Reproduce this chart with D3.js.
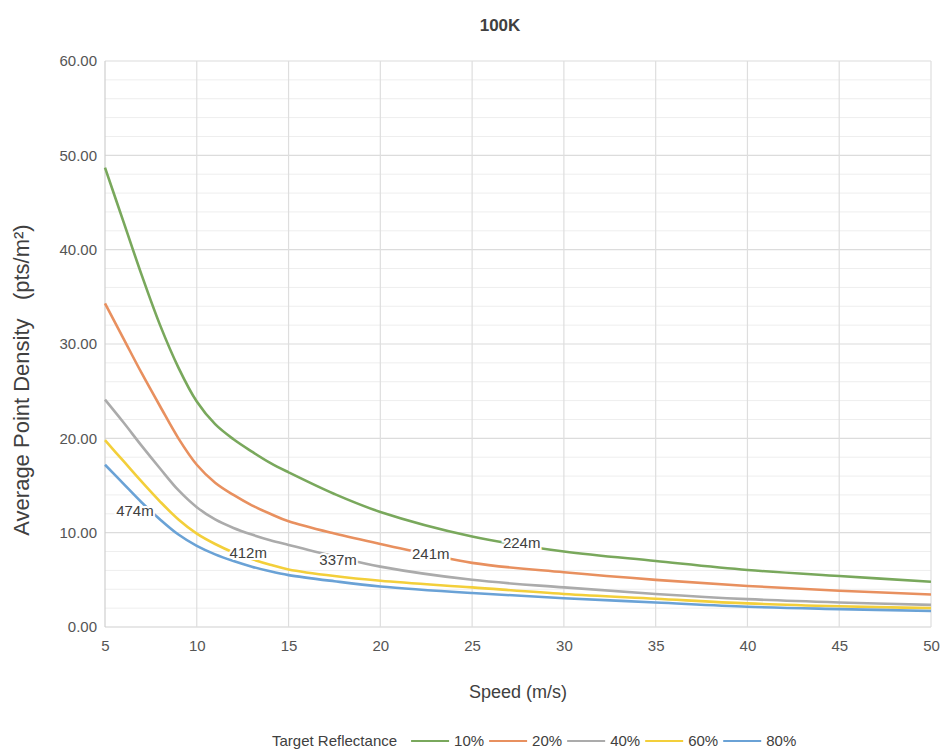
<!DOCTYPE html>
<html>
<head>
<meta charset="utf-8">
<script src="https://d3js.org/d3.v7.min.js"></script>
<title>100K</title>
<style>
  body { margin: 0; background: #fff; }
  text { font-family: "Liberation Sans", Arial, sans-serif; }
</style>
</head>
<body>
<svg id="chart"></svg>
<script>
const width = 943;
const height = 752;
const margin = {top: 61, right: 12, bottom: 125, left: 105};

// speeds (m/s) at which values were read
const speeds = [5, 6, 7, 8, 9, 10, 11, 12, 13, 14, 15, 17.5, 20, 25, 30, 35, 40, 45, 50];

const reflect10 = [48.7, 43.0, 37.3, 32.0, 27.5, 23.9, 21.5, 19.9, 18.6, 17.4, 16.4, 14.1, 12.2, 9.6, 8.0, 7.0, 6.05, 5.4, 4.8];
const reflect20 = [34.3, 30.6, 26.9, 23.4, 20.0, 17.2, 15.3, 14.0, 12.9, 12.0, 11.2, 9.9, 8.8, 6.8, 5.8, 5.0, 4.35, 3.85, 3.45];
const reflect40 = [24.1, 21.7, 19.2, 16.8, 14.5, 12.7, 11.4, 10.5, 9.8, 9.2, 8.7, 7.5, 6.4, 5.0, 4.2, 3.5, 2.95, 2.6, 2.35];
const reflect60 = [19.8, 17.6, 15.4, 13.3, 11.4, 9.9, 8.8, 7.9, 7.2, 6.6, 6.1, 5.4, 4.9, 4.2, 3.5, 3.0, 2.5, 2.2, 2.0];
const reflect80 = [17.2, 15.2, 13.2, 11.4, 9.8, 8.6, 7.7, 7.0, 6.4, 5.9, 5.5, 4.85, 4.3, 3.6, 3.05, 2.6, 2.15, 1.9, 1.7];

const seriesNames = ["10%", "20%", "40%", "60%", "80%"];
const seriesValues = [reflect10, reflect20, reflect40, reflect60, reflect80];
const colors = ["#79a85c", "#e8905f", "#ababab", "#f3cf3a", "#6aa2d6"];

// range labels along the curves
const noteText = ["474m", "412m", "337m", "241m", "224m"];
const noteSpeed = [6.63, 12.8, 17.7, 22.75, 27.7];
const noteValue = [12.3, 7.85, 7.1, 7.75, 8.9];

const xTicks = [5, 10, 15, 20, 25, 30, 35, 40, 45, 50];
const yTicks = [0, 10, 20, 30, 40, 50, 60];
const yMinor = d3.range(0, 61, 2).filter(v => v % 10 !== 0);

const svg = d3.select("#chart")
  .attr("width", width)
  .attr("height", height);

const x = d3.scaleLinear().domain([5, 50]).range([margin.left, width - margin.right]);
const y = d3.scaleLinear().domain([0, 60]).range([height - margin.bottom, margin.top]);

// grid
const grid = svg.append("g");
grid.selectAll(".minor").data(yMinor).join("line")
  .attr("x1", x(5)).attr("x2", x(50))
  .attr("y1", d => y(d)).attr("y2", d => y(d))
  .attr("stroke", "#eeeeee").attr("stroke-width", 1);
grid.selectAll(".major").data(yTicks).join("line")
  .attr("x1", x(5)).attr("x2", x(50))
  .attr("y1", d => y(d)).attr("y2", d => y(d))
  .attr("stroke", d => d === 0 ? "#cfcfcf" : "#dcdcdc").attr("stroke-width", 1.2);
grid.selectAll(".vert").data(xTicks).join("line")
  .attr("x1", d => x(d)).attr("x2", d => x(d))
  .attr("y1", y(0)).attr("y2", y(60))
  .attr("stroke", d => d === 5 ? "#cfcfcf" : "#dedede").attr("stroke-width", 1.2);

// axes
const xAxis = svg.append("g")
  .attr("transform", `translate(0,${y(0)})`)
  .call(d3.axisBottom(x).tickValues(xTicks).tickSize(0).tickPadding(13));
const yAxis = svg.append("g")
  .attr("transform", `translate(${x(5)},0)`)
  .call(d3.axisLeft(y).tickValues(yTicks).tickSize(0).tickPadding(8).tickFormat(d3.format(".2f")));
[xAxis, yAxis].forEach(a => {
  a.select(".domain").remove();
  a.selectAll("text")
    .attr("font-size", 15)
    .attr("fill", "#555")
    .attr("font-family", "'Liberation Sans', Arial, sans-serif");
});

// lines
const line = d3.line()
  .x((d, i) => x(speeds[i]))
  .y(d => y(d))
  .curve(d3.curveCatmullRom.alpha(0.5));

svg.append("g").selectAll("path").data(seriesValues).join("path")
  .attr("d", d => line(d))
  .attr("fill", "none")
  .attr("stroke", (d, i) => colors[i])
  .attr("stroke-width", 2.6)
  .attr("stroke-linejoin", "round");

// notes
svg.append("g").selectAll("text").data(noteText).join("text")
  .attr("x", (d, i) => x(noteSpeed[i]))
  .attr("y", (d, i) => y(noteValue[i]))
  .attr("dy", "0.35em")
  .attr("text-anchor", "middle")
  .attr("font-size", 15)
  .attr("fill", "#404040")
  .attr("stroke", "#fff")
  .attr("stroke-width", 4)
  .attr("paint-order", "stroke")
  .text(d => d);

// title
svg.append("text")
  .attr("x", 500).attr("y", 31)
  .attr("text-anchor", "middle")
  .attr("font-size", 17).attr("font-weight", "bold")
  .attr("fill", "#404040")
  .text("100K");

// axis titles
svg.append("text")
  .attr("x", (x(5) + x(50)) / 2).attr("y", 698)
  .attr("text-anchor", "middle")
  .attr("font-size", 18)
  .attr("fill", "#404040")
  .text("Speed (m/s)");

svg.append("text")
  .attr("transform", "translate(29,380) rotate(-90)")
  .attr("text-anchor", "middle")
  .attr("font-size", 22)
  .attr("fill", "#404040")
  .style("white-space", "pre")
  .text("Average Point Density   (pts/m²)");

// legend
const legend = svg.append("g").attr("transform", "translate(0,741)");
let lx = 272;
const lt = legend.append("text")
  .attr("x", lx).attr("dy", "0.35em")
  .attr("font-size", 15).attr("fill", "#404040")
  .text("Target Reflectance");
lx += lt.node().getComputedTextLength() + 14;
seriesNames.forEach((name, i) => {
  legend.append("line")
    .attr("x1", lx).attr("x2", lx + 38)
    .attr("stroke", colors[i]).attr("stroke-width", 2);
  lx += 43;
  const t = legend.append("text")
    .attr("x", lx).attr("dy", "0.35em")
    .attr("font-size", 15).attr("fill", "#404040")
    .text(name);
  lx += t.node().getComputedTextLength() + 5;
});
</script>
</body>
</html>
